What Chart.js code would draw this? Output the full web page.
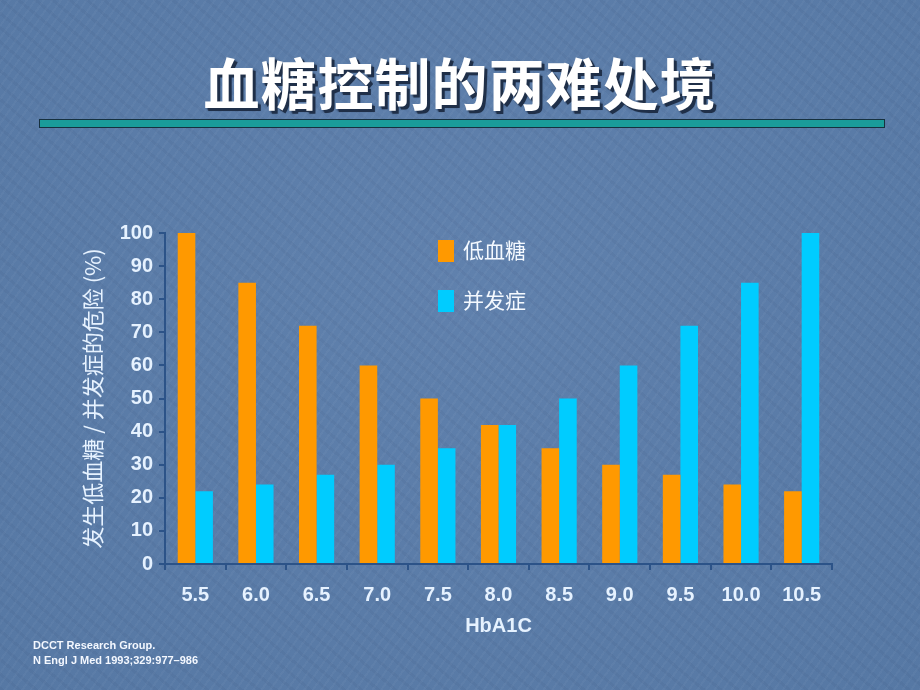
<!DOCTYPE html>
<html>
<head>
<meta charset="utf-8">
<script src="https://cdn.jsdelivr.net/npm/chart.js@4.4.0/dist/chart.umd.min.js"></script>
<style>
  html, body { margin:0; padding:0; }
  body {
    width:920px; height:690px; overflow:hidden; position:relative;
    background-color:#5b7ca8;
    background-image:
      repeating-linear-gradient(125deg, rgba(255,255,255,0.03) 0px, rgba(255,255,255,0.03) 2px, rgba(0,0,0,0) 2px, rgba(0,0,0,0) 7px),
      repeating-linear-gradient(40deg, rgba(0,0,40,0.035) 0px, rgba(0,0,40,0.035) 3px, rgba(0,0,0,0) 3px, rgba(0,0,0,0) 11px),
      radial-gradient(ellipse at 50% 40%, #6081ad 0%, #5678a4 100%);
    font-family: "Liberation Sans", Arial, sans-serif;
  }
  #title {
    position:absolute; left:0; top:46px; width:920px; text-align:center;
    font-family:"Noto Sans CJK SC", sans-serif; font-weight:700; font-size:56px; line-height:70px;
    color:#ffffff; letter-spacing:1px;
    text-shadow: 3px 3px 0 #1f2f48, 2px 2px 2px #1f2f48;
  }
  #rule {
    position:absolute; left:39px; top:119px; width:844px; height:7px;
    background:#1a9c9a; border:1px solid #16313f;
  }
  #chartwrap { position:absolute; left:0; top:0; width:920px; height:690px; }
  #legend { position:absolute; left:438px; top:236px; }
  .li { position:absolute; left:0; white-space:nowrap; height:28px; }
  .sw { position:absolute; left:0; top:4px; width:16px; height:22px; }
  .lt { position:absolute; left:25px; top:-1px; font-family:"Noto Sans CJK SC", sans-serif; font-size:21px; line-height:28px; color:#f4f9ff; }
  #foot {
    position:absolute; left:33px; top:638px; font-family:"Liberation Sans", Arial, sans-serif;
    font-weight:700; font-size:11px; line-height:15px; color:#f4f8ff;
  }
</style>
</head>
<body>
<div id="title">血糖控制的两难处境</div>
<div id="rule"></div>
<div id="chartwrap"><canvas id="c" width="920" height="690"></canvas></div>
<div id="legend"></div>
<div id="foot">DCCT Research Group.<br>N Engl J Med 1993;329:977–986</div>
<script>
const categories = ["5.5","6.0","6.5","7.0","7.5","8.0","8.5","9.0","9.5","10.0","10.5"];
const hypoglycemia = [100, 85, 72, 60, 50, 42, 35, 30, 27, 24, 22];
const complications = [22, 24, 27, 30, 35, 42, 50, 60, 72, 85, 100];
const seriesNames = ["低血糖", "并发症"];
const seriesColors = ["#ff9900", "#00ccff"];
const yTicks = [0,10,20,30,40,50,60,70,80,90,100];
const xTitle = "HbA1C";
const yTitle = "发生低血糖 / 并发症的危险 (%)";

// HTML legend built from series arrays
const leg = document.getElementById('legend');
seriesNames.forEach((n, i) => {
  const d = document.createElement('div');
  d.className = 'li';
  d.style.top = (i * 50) + 'px';
  d.innerHTML = '<span class="sw" style="background:' + seriesColors[i] + '"></span><span class="lt">' + n + '</span>';
  leg.appendChild(d);
});

const tickColor = "#e6f2ff";
const axisColor = "#2c5388";

new Chart(document.getElementById('c'), {
  type: 'bar',
  data: {
    labels: categories,
    datasets: [
      { label: seriesNames[0], data: hypoglycemia, backgroundColor: seriesColors[0], borderWidth: 0 },
      { label: seriesNames[1], data: complications, backgroundColor: seriesColors[1], borderWidth: 0 }
    ]
  },
  options: {
    responsive: false,
    animation: false,
    devicePixelRatio: 1,
    layout: { padding: { left: 79, top: 233, right: 88, bottom: 52 } },
    plugins: { legend: { display: false }, tooltip: { enabled: false }, title: { display: false } },
    datasets: { bar: { categoryPercentage: 0.58, barPercentage: 1.0 } },
    scales: {
      x: {
        offset: true,
        grid: { offset: true, drawOnChartArea: false, drawTicks: true, tickLength: 6, color: axisColor, lineWidth: 2 },
        border: { display: true, color: axisColor, width: 2 },
        ticks: { color: tickColor, font: { family: "'Liberation Sans', Arial, sans-serif", size: 20, weight: 'bold' }, padding: 13, maxRotation: 0, autoSkip: false },
        title: { display: true, text: xTitle, color: tickColor, font: { family: "'Liberation Sans', Arial, sans-serif", size: 20, weight: 'bold' }, padding: { top: 0, bottom: 0 } },
        afterFit: s => { s.height = 74; }
      },
      y: {
        min: 0, max: 100,
        afterBuildTicks: s => { s.ticks = yTicks.map(v => ({ value: v })); },
        grid: { drawOnChartArea: false, drawTicks: true, tickLength: 6, color: axisColor, lineWidth: 2 },
        border: { display: true, color: axisColor, width: 2 },
        ticks: { color: tickColor, font: { family: "'Liberation Sans', Arial, sans-serif", size: 20, weight: 'bold' }, padding: 6 },
        title: { display: true, text: yTitle, color: tickColor, font: { family: "'Noto Sans CJK SC', sans-serif", size: 22, weight: 'normal' }, padding: { top: 0, bottom: 0 } },
        afterFit: s => { s.width = 86; }
      }
    }
  }
});
</script>
</body>
</html>
